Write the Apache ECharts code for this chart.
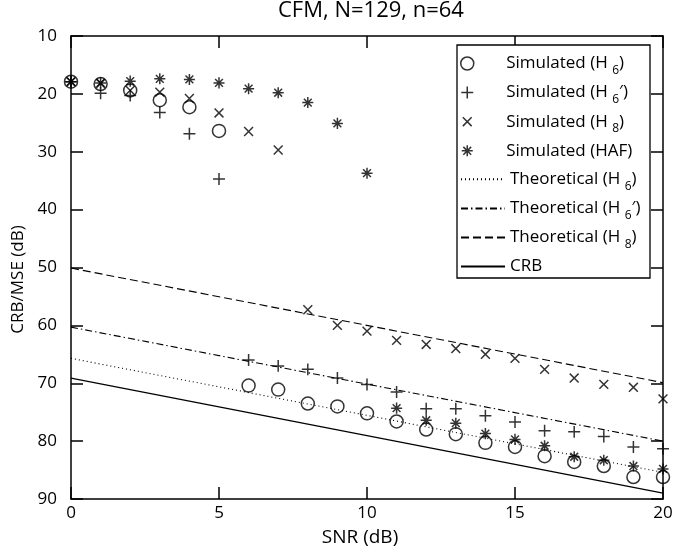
<!DOCTYPE html>
<html>
<head>
<meta charset="utf-8">
<script src="https://cdn.jsdelivr.net/npm/echarts@6/dist/echarts.min.js"></script>
<style>html,body{margin:0;padding:0;background:#fff;}#c{width:688px;height:552px;}</style>
</head>
<body>
<div id="c"></div>
<script>
// ---- data ----
var snr = [0,1,2,3,4,5,6,7,8,9,10,11,12,13,14,15,16,17,18,19,20];
var simH6  = [17.9,18.3,19.4,21.1,22.3,26.4,70.4,71.1,73.5,74.0,75.2,76.6,78.0,78.8,80.3,81.0,82.6,83.6,84.3,86.2,86.2];
var simH6p = [17.9,19.9,20.3,23.2,26.9,34.7,66.0,67.0,67.6,69.1,70.2,71.5,74.4,74.4,75.6,76.7,78.2,78.4,79.2,81.0,81.3];
var simH8  = [17.9,18.2,19.4,19.7,20.8,23.3,26.5,29.7,57.3,60.0,61.0,62.6,63.3,64.0,65.0,65.7,67.6,69.1,70.2,70.7,72.7];
var simHAF = [17.9,18.1,17.8,17.4,17.5,18.1,19.1,19.8,21.5,25.1,33.7,74.3,76.4,76.9,78.7,79.7,80.8,82.7,83.3,84.3,84.8];
var theoSNR = [0,20];
var theoH6  = [65.7,85.4];
var theoH6p = [60.3,80.0];
var theoH8  = [50.1,69.9];
var crb     = [69.1,89.0];
var xTicks = {min:0,max:20,step:5};
var yTicks = {min:10,max:90,step:10};
var titleText = 'CFM, N=129, n=64';
var xName = 'SNR (dB)';
var yName = 'CRB/MSE (dB)';
var names = ['Simulated (H6)','Simulated (H6\')','Simulated (H8)','Simulated (HAF)',
             'Theoretical (H6)','Theoretical (H6\')','Theoretical (H8)','CRB'];
var legendRich = {
  'Simulated (H6)': '{n|Simulated (H }{s|6}{n|)}',
  'Simulated (H6\')': '{n|Simulated (H }{s|6}{n|′)}',
  'Simulated (H8)': '{n|Simulated (H }{s|8}{n|)}',
  'Simulated (HAF)': '{n|Simulated (HAF)}',
  'Theoretical (H6)': '{n|Theoretical (H }{s|6}{n|)}',
  'Theoretical (H6\')': '{n|Theoretical (H }{s|6}{n|′)}',
  'Theoretical (H8)': '{n|Theoretical (H }{s|8}{n|)}',
  'CRB': '{n|CRB}'
};

function pairs(xs, ys){ return xs.map(function(x,i){ return [x, ys[i]]; }); }

var FONT = 'Open Sans';
var PLUS = 'path://M-1,-1M1,1M0,-0.92L0,0.92M-0.92,0L0.92,0';
var CROSS = 'path://M-1,-1M1,1M-0.68,-0.68L0.68,0.68M-0.68,0.68L0.68,-0.68';
var STAR = 'path://M-1,-1M1,1M0,-0.85L0,0.85M-0.85,0L0.85,0M-0.6,-0.6L0.6,0.6M-0.6,0.6L0.6,-0.6';

function scatter(name, sym, ys){
  return {
    name: name, type: 'scatter', data: pairs(snr, ys),
    symbol: sym, symbolSize: 13, symbolKeepAspect: true,
    itemStyle: {color: 'rgba(0,0,0,0)', borderColor: '#000', borderWidth: 1.5},
    z: 3
  };
}
function line(name, type, ys, w){
  return {
    name: name, type: 'line', data: pairs(theoSNR, ys), showSymbol: false,
    color: '#000',
    lineStyle: {color: '#000', width: w, type: type, opacity: 1}
  };
}

var legendText = {
  fontFamily: FONT, color: '#000',
  rich: {
    n: {fontFamily: FONT, fontSize: 17, lineHeight: 26, color: '#000'},
    s: {fontFamily: FONT, fontSize: 12, lineHeight: 12, verticalAlign: 'bottom', color: '#000'}
  }
};

var chart = echarts.init(document.getElementById('c'), null, {renderer: 'canvas'});
chart.setOption({
  animation: false,
  backgroundColor: '#fff',
  title: {text: titleText, left: 278, top: 0, padding: 0,
    textStyle: {fontFamily: FONT, fontSize: 22, fontWeight: 'normal', color: '#000'}},
  grid: {left: 71, right: 25, top: 36, bottom: 50, containLabel: false},
  graphic: [{type: 'rect', z: 3, shape: {x: 457, y: 45, width: 193, height: 233},
    style: {fill: '#fff', stroke: '#000', lineWidth: 1.3}}],
  legend: [
    {data: names.slice(0,4), orient: 'vertical', left: 460, top: 55, padding: 0,
     itemWidth: 20, itemHeight: 13, itemGap: 7.6, z: 5,
     formatter: function(n){ return legendRich[n]; },
     itemStyle: {borderWidth: 1.5},
     textStyle: Object.assign({padding: [0,0,0,24]}, legendText), selectedMode: false},
    {data: names.slice(4), orient: 'vertical', left: 460, top: 170.8, padding: 0,
     itemWidth: 44, itemHeight: 13, itemGap: 7.6, z: 5,
     formatter: function(n){ return legendRich[n]; },
     itemStyle: {opacity: 0},
     textStyle: legendText, selectedMode: false}
  ],
  xAxis: [
    {type: 'value', position: 'bottom', min: xTicks.min, max: xTicks.max, interval: xTicks.step,
     name: xName, nameLocation: 'middle', nameGap: 29,
     nameTextStyle: {fontFamily: FONT, fontSize: 19, color: '#000', padding: [0,14,0,0]},
     axisLine: {onZero: false, lineStyle: {color: '#000', width: 1.5}},
     axisTick: {inside: true, length: 12, lineStyle: {color: '#000', width: 1.5}},
     axisLabel: {fontFamily: FONT, fontSize: 17, color: '#000', margin: 6},
     splitLine: {show: false}},
    {type: 'value', position: 'top', min: xTicks.min, max: xTicks.max, interval: xTicks.step,
     axisLine: {onZero: false, lineStyle: {color: '#000', width: 1.5}},
     axisTick: {inside: true, length: 12, lineStyle: {color: '#000', width: 1.5}},
     axisLabel: {show: false}, splitLine: {show: false}}
  ],
  yAxis: [
    {type: 'value', position: 'left', inverse: true, min: yTicks.min, max: yTicks.max, interval: yTicks.step,
     name: yName, nameLocation: 'middle', nameGap: 24, nameRotate: 90,
     nameTextStyle: {fontFamily: FONT, fontSize: 17, color: '#000', padding: [0,24,0,0]},
     axisLine: {onZero: false, lineStyle: {color: '#000', width: 1.5}},
     axisTick: {inside: true, length: 12, lineStyle: {color: '#000', width: 1.5}},
     axisLabel: {fontFamily: FONT, fontSize: 17, color: '#000', margin: 14},
     splitLine: {show: false}},
    {type: 'value', position: 'right', inverse: true, min: yTicks.min, max: yTicks.max, interval: yTicks.step,
     axisLine: {onZero: false, lineStyle: {color: '#000', width: 1.5}},
     axisTick: {inside: true, length: 12, lineStyle: {color: '#000', width: 1.5}},
     axisLabel: {show: false}, splitLine: {show: false}}
  ],
  series: [
    scatter(names[0], 'circle', simH6),
    scatter(names[1], PLUS, simH6p),
    scatter(names[2], CROSS, simH8),
    scatter(names[3], STAR, simHAF),
    line(names[4], [1,3], theoH6, 1.1),
    line(names[5], [7,3,1.5,3], theoH6p, 1.1),
    line(names[6], [8,4], theoH8, 1.1),
    line(names[7], 'solid', crb, 1.3)
  ]
});
</script>
</body>
</html>
